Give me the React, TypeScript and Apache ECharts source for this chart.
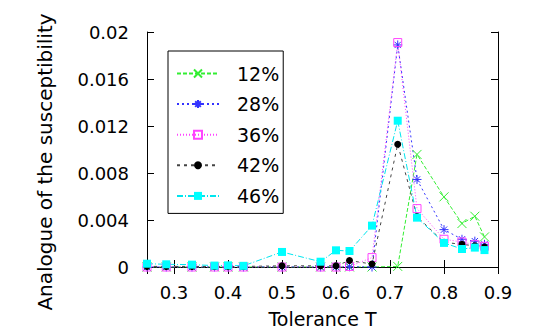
import React, { useEffect, useRef } from "react";
import * as echarts from "echarts";

const tolerance = [0.25, 0.2857, 0.3333, 0.375, 0.4, 0.4286, 0.5, 0.5714, 0.6, 0.625, 0.6667, 0.7143, 0.75, 0.8, 0.8333, 0.8571, 0.875];

const s12 = [0, 0, 0, 0, 0, 0, 0, 0, 0, 0, 0, 0.00005, 0.00958, 0.00597, 0.0037, 0.00432, 0.00256];
const s28 = [0, 0, 0, 0, 0, 0, 0, 0, 0.00002, 0.00002, 0, 0.0189, 0.00745, 0.00318, 0.00236, 0.0022, 0.00193];
const s36 = [0, 0, 0, 0, 0, 0, 0, 0, 0, 0.00005, 0.0008, 0.0191, 0.00497, 0.00236, 0.00213, 0.0019, 0.00176];
const s42 = [0.00005, 0.00005, 0.00005, 0.00005, 0.00005, 0.00005, 0.0001, 0.0001, 0.0001, 0.00055, 0.00025, 0.01045, 0.0043, 0.0021, 0.00193, 0.0018, 0.0017];
const s46 = [0.00028, 0.00023, 0.0002, 0.00012, 0.00014, 0.0001, 0.00128, 0.00045, 0.00142, 0.00136, 0.00352, 0.01245, 0.0042, 0.00205, 0.00153, 0.00165, 0.00144];

const seriesNames = ["12%", "28%", "36%", "42%", "46%"];
const xTicks = [0.3, 0.4, 0.5, 0.6, 0.7, 0.8, 0.9];
const yTicks = [0, 0.004, 0.008, 0.012, 0.016, 0.02];
const yTitle = "Analogue of the susceptibility";
const xTitle = "Tolerance T";

const FONT = "DejaVu Sans";

const pair = (ys: number[]) => tolerance.map((x, i) => [x, ys[i]]);

export default function App() {
  const ref = useRef<HTMLDivElement>(null);
  useEffect(() => {
    if (!ref.current) return;
    const chart = echarts.init(ref.current, null, { renderer: "svg" });
    const tickStyle = { show: true, inside: true, length: 7, lineStyle: { color: "#000", width: 1 } };
    const lineAxis = { show: true, lineStyle: { color: "#000", width: 1 } };
    const base = {
      type: "line" as const,
      showAllSymbol: true,
      symbolKeepAspect: true,
    };
    chart.setOption({
      animation: false,
      backgroundColor: "#fff",
      textStyle: { fontFamily: FONT },
      grid: { left: 147, right: 47, top: 32, bottom: 69, containLabel: false },
      graphic: [
        {
          type: "text",
          x: 45,
          y: 162,
          rotation: Math.PI / 2,
          style: {
            text: yTitle,
            fontSize: 20,
            fontFamily: FONT,
            fill: "#000",
            align: "center",
            verticalAlign: "middle",
          },
        },
      ],
      legend: {
        orient: "vertical",
        left: 168,
        top: 51,
        itemWidth: 42,
        itemHeight: 10,
        itemGap: 11.6,
        padding: [13, 4, 8, 8],
        borderColor: "#000",
        borderWidth: 1,
        borderRadius: 0,
        backgroundColor: "#fff",
        data: seriesNames,
        textStyle: { fontSize: 19, fontFamily: FONT, color: "#000", padding: [0, 0, 0, 13] },
      },
      xAxis: [
        {
          type: "value",
          min: 0.25,
          max: 0.9,
          name: xTitle,
          nameLocation: "middle",
          nameGap: 42,
          nameTextStyle: { fontSize: 19, fontFamily: FONT, color: "#000" },
          axisLine: lineAxis,
          axisTick: tickStyle,
          splitLine: { show: false },
          axisLabel: {
            showMinLabel: false,
            fontSize: 18,
            fontFamily: FONT,
            color: "#000",
            margin: 16,
            formatter: (v: number) => {
              const t = xTicks.find((k) => Math.abs(k - v) < 1e-6);
              return t === undefined ? "" : String(t);
            },
          },
        },
        {
          type: "value",
          position: "top",
          min: 0.25,
          max: 0.9,
          axisLine: lineAxis,
          axisTick: tickStyle,
          axisLabel: { show: false },
          splitLine: { show: false },
        },
      ],
      yAxis: [
        {
          type: "value",
          min: 0,
          max: 0.02,
          interval: 0.004,
          axisLine: lineAxis,
          axisTick: tickStyle,
          splitLine: { show: false },
          axisLabel: {
            fontSize: 18,
            fontFamily: FONT,
            color: "#000",
            margin: 18,
            formatter: (v: number) => {
              const t = yTicks.find((k) => Math.abs(k - v) < 1e-9);
              return t === undefined ? "" : String(t);
            },
          },
        },
        {
          type: "value",
          position: "right",
          min: 0,
          max: 0.02,
          interval: 0.004,
          axisLine: lineAxis,
          axisTick: tickStyle,
          axisLabel: { show: false },
          splitLine: { show: false },
        },
      ],
      series: [
        {
          ...base,
          name: seriesNames[0],
          data: pair(s12),
          symbol: "path://M0 0L10 10M10 0L0 10",
          symbolSize: 9,
          itemStyle: { color: "rgba(0,0,0,0)", borderColor: "#33ee33", borderWidth: 1 },
          lineStyle: { color: "#33ee33", width: 1, type: [4, 2] },
        },
        {
          ...base,
          name: seriesNames[1],
          data: pair(s28),
          symbol: "path://M5 0L5 10M0 5L10 5M1.5 1.5L8.5 8.5M8.5 1.5L1.5 8.5",
          symbolSize: 9,
          itemStyle: { color: "rgba(0,0,0,0)", borderColor: "#3333ff", borderWidth: 1 },
          lineStyle: { color: "#3333ff", width: 1, type: [2, 3] },
        },
        {
          ...base,
          name: seriesNames[2],
          data: pair(s36),
          symbol: "rect",
          symbolSize: 8,
          itemStyle: { color: "rgba(0,0,0,0)", borderColor: "#ff44ff", borderWidth: 1 },
          lineStyle: { color: "#ff44ff", width: 1, type: [1, 2] },
        },
        {
          ...base,
          name: seriesNames[3],
          data: pair(s42),
          symbol: "circle",
          symbolSize: 7,
          itemStyle: { color: "#000", borderWidth: 0 },
          lineStyle: { color: "#444", width: 1, type: [3, 4] },
        },
        {
          ...base,
          name: seriesNames[4],
          data: pair(s46),
          symbol: "rect",
          symbolSize: 8,
          itemStyle: { color: "#00ffff", borderWidth: 0 },
          lineStyle: { color: "#00e5ee", width: 1, type: [6, 2, 1, 2] },
        },
      ],
    });
    return () => chart.dispose();
  }, []);
  return <div ref={ref} style={{ position: "fixed", left: 0, top: 0, width: 545, height: 336 }} />;
}
